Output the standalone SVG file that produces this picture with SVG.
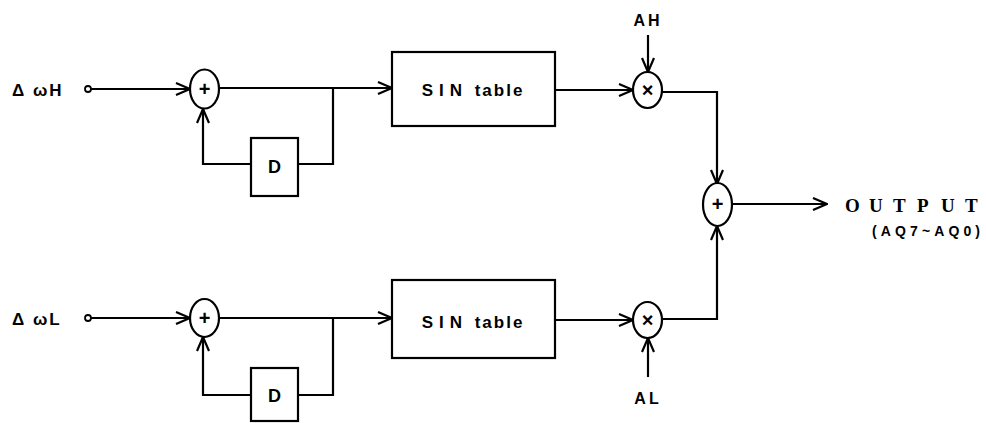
<svg xmlns="http://www.w3.org/2000/svg" width="986" height="423" viewBox="0 0 986 423">
<style>
.ln{fill:none;stroke:#000;stroke-width:2.2;stroke-linejoin:miter}
.nd{fill:#fff;stroke:#000;stroke-width:2.2}
.t{font-family:"Liberation Sans",Arial,sans-serif;font-weight:bold;fill:#000}
.s{font-family:"Liberation Sans",Arial,sans-serif;font-weight:bold;fill:#000;font-size:20px;text-anchor:middle}
.o{font-family:"Liberation Serif","Times New Roman",serif;font-weight:bold;fill:#000}
</style>
<defs>
<marker id="ah" viewBox="0 0 16 14" refX="15" refY="7" markerWidth="16" markerHeight="14" markerUnits="userSpaceOnUse" orient="auto">
<path d="M1,1 L15,7 L1,13" fill="none" stroke="#000" stroke-width="2.2"/>
</marker>
</defs>
<rect width="986" height="423" fill="#fff"/>
<g id="connectors">
<line class="ln" x1="91" y1="89" x2="190" y2="89" marker-end="url(#ah)"/>
<line class="ln" x1="219" y1="88" x2="392" y2="88" marker-end="url(#ah)"/>
<polyline class="ln" points="333,88 333,164 298,164"/>
<polyline class="ln" points="251,164 203,164 203,109" marker-end="url(#ah)"/>
<line class="ln" x1="555" y1="90" x2="633" y2="90" marker-end="url(#ah)"/>
<line class="ln" x1="648" y1="35" x2="648" y2="72" marker-end="url(#ah)"/>
<polyline class="ln" points="662,92 717,92 717,184" marker-end="url(#ah)"/>
<line class="ln" x1="91" y1="318" x2="190" y2="318" marker-end="url(#ah)"/>
<line class="ln" x1="219" y1="318" x2="392" y2="318" marker-end="url(#ah)"/>
<polyline class="ln" points="333,318 333,395 298,395"/>
<polyline class="ln" points="251,395 203,395 203,337" marker-end="url(#ah)"/>
<line class="ln" x1="555" y1="320" x2="633" y2="320" marker-end="url(#ah)"/>
<line class="ln" x1="648" y1="377" x2="648" y2="338" marker-end="url(#ah)"/>
<polyline class="ln" points="662,319 717,319 717,226" marker-end="url(#ah)"/>
<line class="ln" x1="732" y1="204" x2="827" y2="204" marker-end="url(#ah)"/>
</g>
<g id="in-h"><text class="t" x="12" y="96" font-size="17" letter-spacing="2">Δ ωH</text><circle cx="88" cy="89" r="3" fill="#fff" stroke="#000" stroke-width="1.8"/></g>
<g id="in-l"><text class="t" x="12" y="325" font-size="17" letter-spacing="2">Δ ωL</text><circle cx="88" cy="318" r="3" fill="#fff" stroke="#000" stroke-width="1.8"/></g>
<g id="add-h"><ellipse class="nd" cx="204.5" cy="89" rx="14.5" ry="19.5"/><text class="s" x="204.5" y="96">+</text></g>
<g id="add-l"><ellipse class="nd" cx="204.5" cy="318" rx="14.5" ry="19"/><text class="s" x="204.5" y="325">+</text></g>
<g id="d-h"><rect class="nd" x="251" y="138" width="47" height="58"/><text class="t" x="274.5" y="173" font-size="18" text-anchor="middle">D</text></g>
<g id="d-l"><rect class="nd" x="251" y="368" width="47" height="53"/><text class="t" x="274.5" y="402" font-size="18" text-anchor="middle">D</text></g>
<g id="sin-h"><rect class="nd" x="392" y="52" width="163" height="74"/><text class="t" x="473" y="96" font-size="17" text-anchor="middle" letter-spacing="2"><tspan letter-spacing="6">SIN</tspan> table</text></g>
<g id="sin-l"><rect class="nd" x="392" y="280" width="163" height="78"/><text class="t" x="473" y="328" font-size="17" text-anchor="middle" letter-spacing="2"><tspan letter-spacing="6">SIN</tspan> table</text></g>
<g id="mul-h"><ellipse class="nd" cx="647.5" cy="90" rx="14.5" ry="18"/><text class="s" x="647.5" y="97">×</text></g>
<g id="mul-l"><ellipse class="nd" cx="647.5" cy="320" rx="14.5" ry="18"/><text class="s" x="647.5" y="327">×</text></g>
<g id="sum"><ellipse class="nd" cx="717.5" cy="204.5" rx="14.5" ry="21.5"/><text class="s" x="717.5" y="211">+</text></g>
<g id="lbl-ah"><text class="t" x="648" y="26" font-size="16" text-anchor="middle" letter-spacing="3">AH</text></g>
<g id="lbl-al"><text class="t" x="648" y="404" font-size="16" text-anchor="middle" letter-spacing="3">AL</text></g>
<g id="output"><text class="o" x="845 869 893 917 941 965" y="212" font-size="19">OUTPUT</text><text class="t" x="872" y="236" font-size="14" textLength="108" lengthAdjust="spacing">(AQ7~AQ0)</text></g>
</svg>
